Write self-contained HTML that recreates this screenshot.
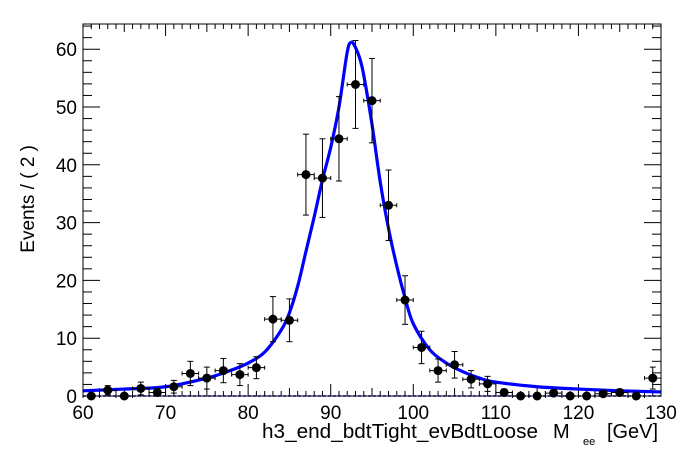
<!DOCTYPE html>
<html><head><meta charset="utf-8"><style>
body{margin:0;background:#fff;}
svg{display:block;font-family:"Liberation Sans",Arial,sans-serif;}
</style></head><body>
<svg id="c" width="696" height="472" viewBox="0 0 696 472">
<rect x="0" y="0" width="696" height="472" fill="#fff"/>
<g id="grid"></g>
<g id="curve"></g>
<g id="pts"></g>
<rect x="83" y="24" width="578" height="372" fill="none" stroke="#000" stroke-width="1"/>
<text x="262" y="438" font-size="20" textLength="276" lengthAdjust="spacingAndGlyphs">h3_end_bdtTight_evBdtLoose</text>
<text x="553" y="438" font-size="20">M</text>
<text x="583" y="445" font-size="11">ee</text>
<text x="607" y="438" font-size="20" textLength="51" lengthAdjust="spacingAndGlyphs">[GeV]</text>
<text transform="translate(34,145) rotate(-90)" font-size="19" text-anchor="end">Events / ( 2 )</text>
</svg>
<script>
const binCenters=[61,63,65,67,69,71,73,75,77,79,81,83,85,87,89,91,93,95,97,99,101,103,105,107,109,111,113,115,117,119,121,123,125,127,129];
const counts=[0,1,0,1.3,0.6,1.6,3.9,3.1,4.4,3.7,4.9,13.3,13.1,38.3,37.7,44.5,53.9,51.1,33,16.6,8.4,4.4,5.4,2.9,2.1,0.6,0,0,0.5,0,0,0.4,0.6,0,3.1];
const errors=[0,0.8,0,1.1,0.7,1.1,2.1,1.9,2.1,1.9,1.9,3.9,3.7,7,6.8,7.3,7.6,7.3,6.1,4.2,2.8,2,2.3,1.5,1.3,0.6,0,0,0.5,0,0,0.4,0.6,0,1.9];
const curveX=[60,65,70,75,78,80,82,84,85,86,87,88,89,90,91,92,92.5,93,93.5,94,95,96,97,98,99,100,102,104,106,108,110,115,120,125,130];
const curveY=[0.9,1.2,1.6,3.1,4.5,5.7,7.6,11.4,14.4,19,25,31,37.4,43,50,59.5,61.2,60.3,58.5,55.5,47,37,29,22.5,17,12.5,8,5.7,4.2,3.1,2.4,1.6,1.2,0.9,0.7];
const xTicks=[60,70,80,90,100,110,120,130];
const yTicks=[0,10,20,30,40,50,60];
const X0=83,X1=661,Y0=396,YS=5.78;
const sx=v=>X0+(v-60)*(X1-X0)/70;
const sy=v=>Y0-v*YS;
const NS="http://www.w3.org/2000/svg";
function mk(t,a,p){const e=document.createElementNS(NS,t);for(const k in a)e.setAttribute(k,a[k]);p.appendChild(e);return e;}
const g=document.getElementById('grid');
for(let v=60;v<=130;v+=1){
  const big=v%10===0, mid=v%5===0;
  const L=big?12:(mid?8:5);
  const t1=mk('line',{x1:sx(v),x2:sx(v),y1:Y0,y2:Y0-L,stroke:'#000'},g);
  
  
  const t2=mk('line',{x1:sx(v),x2:sx(v),y1:24,y2:24+L,stroke:'#000'},g);
  
  
}
xTicks.forEach(v=>{const t=mk('text',{x:sx(v),y:419,'font-size':19,'text-anchor':'middle'},g);t.textContent=v;
  
  });
for(let v=0;v<=64;v+=2){
  const big=v%10===0;const L=big?17:9;
  const t1=mk('line',{x1:X0,x2:X0+L,y1:sy(v),y2:sy(v),stroke:'#000'},g);
  
  
  const t2=mk('line',{x1:X1,x2:X1-L,y1:sy(v),y2:sy(v),stroke:'#000'},g);
  
  
}
yTicks.forEach(v=>{const t=mk('text',{x:77,y:sy(v)+7,'font-size':19,'text-anchor':'end'},g);t.textContent=v;
  
  });
const cg=document.getElementById('curve');
const zl=mk('line',{x1:X0,x2:X1,y1:sy(0),y2:sy(0),stroke:'#00f','stroke-width':1.5,'stroke-dasharray':'3,2'},cg);


let P=curveX.map((x,i)=>[sx(x),sy(curveY[i])]);
let d='M'+P[0][0]+','+P[0][1];
for(let i=0;i<P.length-1;i++){
  const p0=P[Math.max(0,i-1)],p1=P[i],p2=P[i+1],p3=P[Math.min(P.length-1,i+2)];
  const c1=[p1[0]+(p2[0]-p0[0])/6,p1[1]+(p2[1]-p0[1])/6];
  const c2=[p2[0]-(p3[0]-p1[0])/6,p2[1]-(p3[1]-p1[1])/6];
  d+=`C${c1[0]},${c1[1]} ${c2[0]},${c2[1]} ${p2[0]},${p2[1]}`;
}
const cp=mk('path',{d:d,fill:'none',stroke:'#00f','stroke-width':3.2,'stroke-linejoin':'round'},cg);


const pg=document.getElementById('pts');
binCenters.forEach((c,i)=>{
  const x=sx(c),y=sy(counts[i]),gg=mk('g',{},pg);
  
  
  mk('line',{x1:sx(c-1),x2:sx(c+1),y1:y,y2:y,stroke:'#000'},gg);
  mk('line',{x1:sx(c-1),x2:sx(c-1),y1:y-2,y2:y+2,stroke:'#000'},gg);
  mk('line',{x1:sx(c+1),x2:sx(c+1),y1:y-2,y2:y+2,stroke:'#000'},gg);
  if(errors[i]>0){
    const yt=sy(counts[i]+errors[i]),yb=sy(Math.max(0,counts[i]-errors[i]));
    mk('line',{x1:x,x2:x,y1:yt,y2:yb,stroke:'#000'},gg);
    mk('line',{x1:x-3,x2:x+3,y1:yt,y2:yt,stroke:'#000'},gg);
    mk('line',{x1:x-3,x2:x+3,y1:yb,y2:yb,stroke:'#000'},gg);
  }
  mk('circle',{cx:x,cy:y,r:4.5,fill:'#000'},gg);
});
</script>
</body></html>
